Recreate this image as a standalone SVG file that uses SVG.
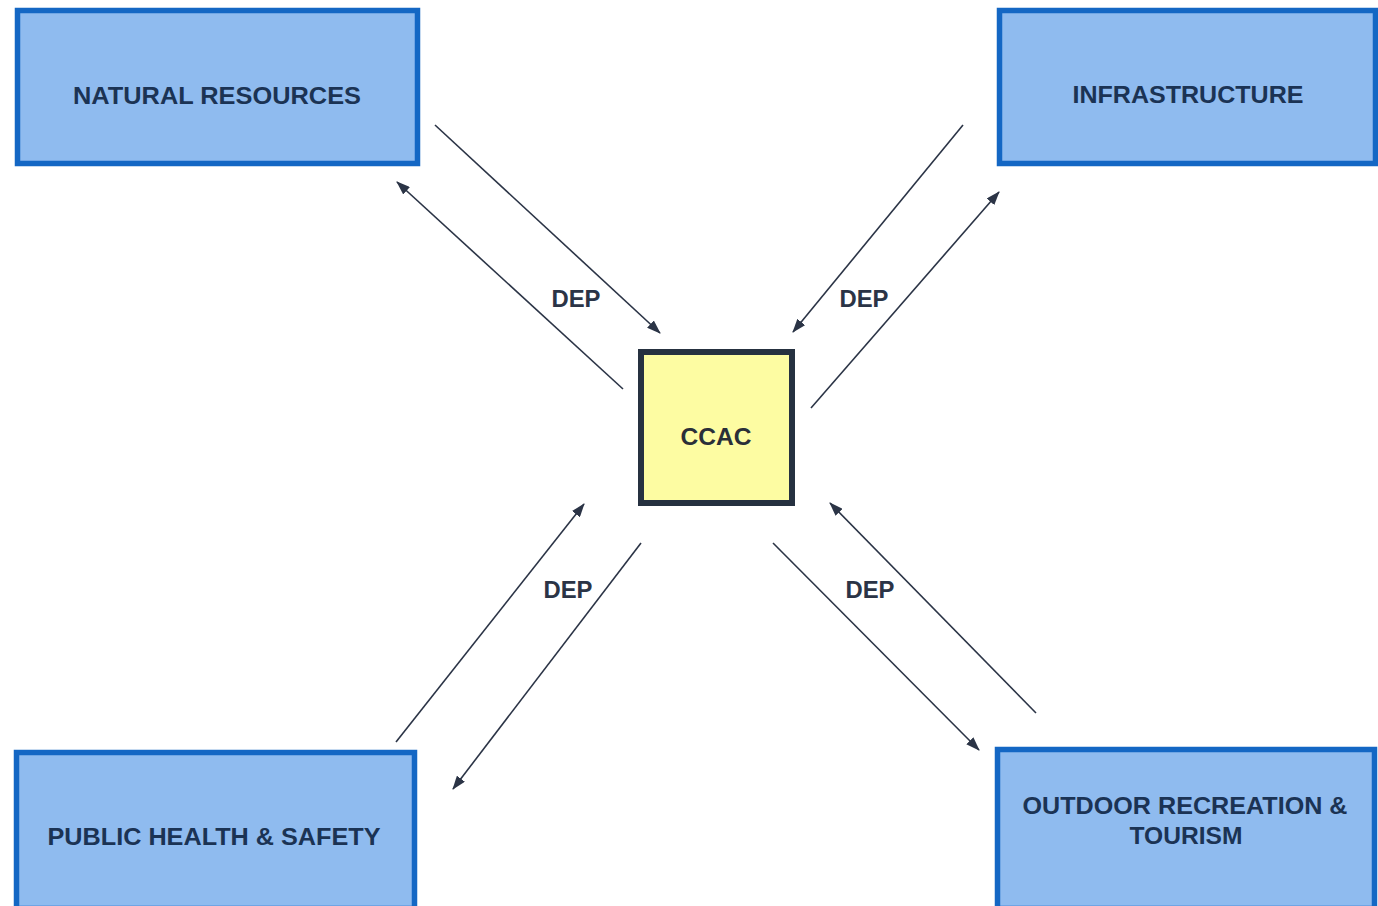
<svg xmlns="http://www.w3.org/2000/svg" width="1378" height="906" viewBox="0 0 1378 906">
<style>
.box{fill:#8fbbef;stroke:#1467c4;stroke-width:5.5}
.lbl{font-family:"Liberation Sans",Arial,sans-serif;font-weight:bold;font-size:23px;fill:#1b3354;text-anchor:middle}
.dep{font-family:"Liberation Sans",Arial,sans-serif;font-weight:bold;font-size:23px;fill:#2b3446;text-anchor:middle}
.con{stroke:#2b3446;stroke-width:1.6;fill:none;marker-end:url(#ah)}
</style>
<defs>
<marker id="ah" viewBox="0 0 14 10" refX="13" refY="5" markerWidth="14" markerHeight="10" markerUnits="userSpaceOnUse" orient="auto">
<path d="M0,0 L14,5 L0,10 Z" fill="#2b3446"/>
</marker>
</defs>
<rect width="1378" height="906" fill="#ffffff"/>
<g id="natural-resources">
<rect class="box" x="17.5" y="10.5" width="400" height="153"/>
<text class="lbl" x="217" y="104" textLength="288" lengthAdjust="spacingAndGlyphs">NATURAL RESOURCES</text>
</g>
<g id="infrastructure">
<rect class="box" x="999.5" y="10.5" width="376" height="153"/>
<text class="lbl" x="1188" y="103" textLength="231" lengthAdjust="spacingAndGlyphs">INFRASTRUCTURE</text>
</g>
<g id="public-health">
<rect class="box" x="16.5" y="752.5" width="398" height="156"/>
<text class="lbl" x="214" y="845" textLength="333" lengthAdjust="spacingAndGlyphs">PUBLIC HEALTH &amp; SAFETY</text>
</g>
<g id="outdoor-recreation">
<rect class="box" x="997.5" y="749.5" width="377" height="159"/>
<text class="lbl" x="1185" y="814" textLength="325" lengthAdjust="spacingAndGlyphs">OUTDOOR RECREATION &amp;</text>
<text class="lbl" x="1186" y="844" textLength="113" lengthAdjust="spacingAndGlyphs">TOURISM</text>
</g>
<g id="ccac">
<rect x="641" y="352" width="151" height="151" fill="#fdfca2" stroke="#263140" stroke-width="6"/>
<text class="lbl" x="716" y="445" style="font-size:24px;fill:#2a2f38" textLength="71" lengthAdjust="spacingAndGlyphs">CCAC</text>
</g>
<g id="connectors">
<line class="con" x1="435" y1="125" x2="660" y2="333"/>
<line class="con" x1="623" y1="389" x2="397" y2="182"/>
<line class="con" x1="963" y1="125" x2="793" y2="332"/>
<line class="con" x1="811" y1="408" x2="999" y2="192"/>
<line class="con" x1="396" y1="742" x2="584" y2="504"/>
<line class="con" x1="641" y1="543" x2="453" y2="789"/>
<line class="con" x1="773" y1="543" x2="979" y2="750"/>
<line class="con" x1="1036" y1="713" x2="830" y2="503"/>
<text class="dep" x="576" y="307" textLength="49" lengthAdjust="spacingAndGlyphs">DEP</text>
<text class="dep" x="864" y="307" textLength="49" lengthAdjust="spacingAndGlyphs">DEP</text>
<text class="dep" x="568" y="598" textLength="49" lengthAdjust="spacingAndGlyphs">DEP</text>
<text class="dep" x="870" y="598" textLength="49" lengthAdjust="spacingAndGlyphs">DEP</text>
</g>
</svg>
